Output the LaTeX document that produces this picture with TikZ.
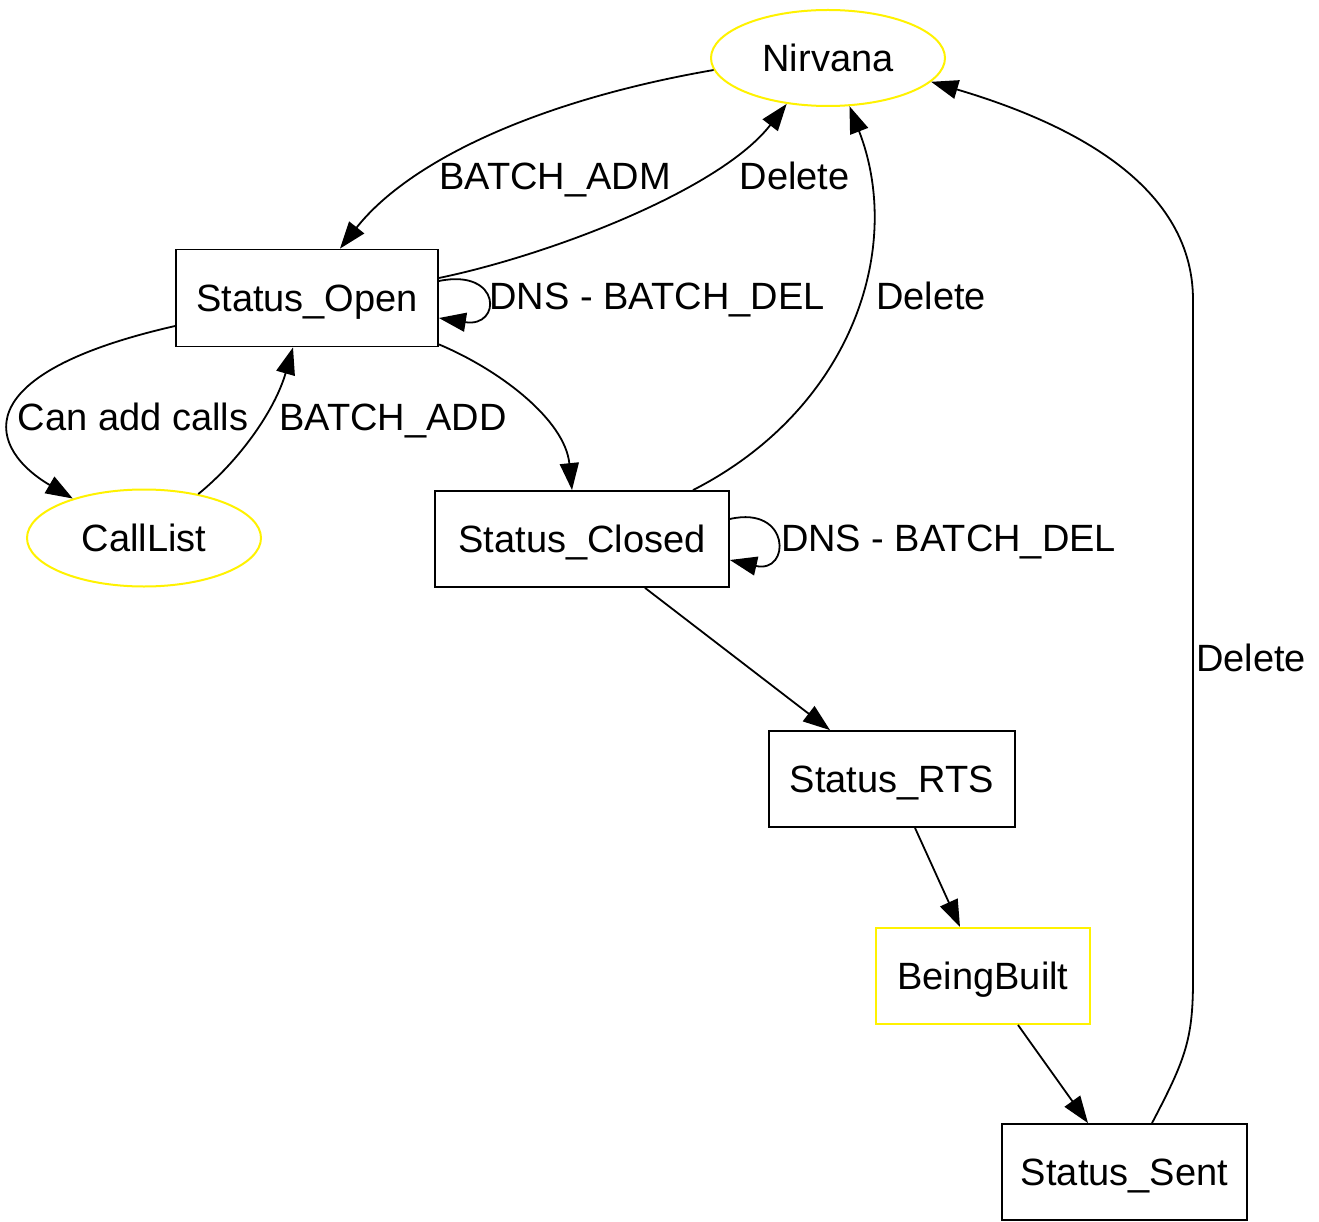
\documentclass[tikz,border=0pt]{standalone}
\usepackage{fontspec}
\setmainfont{Liberation Sans}
\usetikzlibrary{shapes.geometric,arrows.meta}
\begin{document}
\begin{tikzpicture}[x=1pt,y=-1pt,
  every node/.style={font=\fontsize{38}{42}\selectfont, inner sep=0pt, text height=27.2pt, text depth=0pt},
  box/.style={draw=black, line width=1.8pt, rectangle, minimum height=96pt},
  ybox/.style={draw=yellow, line width=2pt, rectangle, minimum height=96pt},
  ell/.style={draw=yellow, line width=2pt, ellipse, minimum width=234pt, minimum height=96pt},
  edge/.style={line width=1.8pt, -{Triangle[length=27pt,width=19pt]}},
  lbl/.style={anchor=base}]
\fill[white] (0,0) rectangle (1319,1222);
\useasboundingbox (0,0) rectangle (1319,1222);

\node[ell] (nirvana) at (828,58) {Nirvana};
\node[box, minimum width=262pt, minimum height=97pt] (open) at (307,298) {Status\_Open};
\node[ell, minimum height=97pt] (calllist) at (144,538) {CallList};
\node[box, minimum width=294pt] (closed) at (582,539) {Status\_Closed};
\node[box, minimum width=246pt] (rts) at (892,779) {Status\_RTS};
\node[ybox, minimum width=214pt] (built) at (983,976) {BeingBuilt};
\node[box, minimum width=245pt] (sent) at (1124.5,1172) {Status\_Sent};

% Nirvana -> Status_Open
\draw[edge] (nirvana.186) .. controls (540,100) and (410,160) .. ([xshift=33pt]open.north);
% Status_Open -> Nirvana
\draw[edge] ([yshift=20pt]open.east) .. controls (550,255) and (720,190) .. (nirvana.228);
% Status_Open self loop
\draw[edge] ([yshift=17pt]open.east) .. controls (502,268) and (502,328) .. ([yshift=-20pt]open.east);
% Status_Open -> CallList
\draw[edge] ([yshift=-28pt]open.west) .. controls (-40,375) and (-10,450) .. (calllist.151);
% CallList -> Status_Open
\draw[edge] (calllist.39) .. controls (240,460) and (275,410) .. ([xshift=-14pt]open.south);
% Status_Open -> Status_Closed
\draw[edge] ([yshift=3pt]open.south east) .. controls (500,370) and (565,420) .. ([xshift=-10pt]closed.north);
% Status_Closed -> Nirvana
\draw[edge] ([xshift=111pt]closed.north) .. controls (850,410) and (905,250) .. (nirvana.294);
% Status_Closed self loop
\draw[edge] ([yshift=20pt]closed.east) .. controls (791,505) and (791,574) .. ([yshift=-21pt]closed.east);
% chain
\draw[edge] ([xshift=63pt]closed.south) -- ([xshift=-62pt]rts.north);
\draw[edge] ([xshift=23pt]rts.south) -- ([xshift=-23pt]built.north);
\draw[edge] ([xshift=35pt]built.south) -- ([xshift=-36.5pt]sent.north);
% Status_Sent -> Nirvana
\draw[edge] ([xshift=27.5pt]sent.north) .. controls (1185,1060) and (1193,1040) .. (1193,980)
  -- (1193,300) .. controls (1193,180) and (1060,120) .. (nirvana.347);

% labels
\node[lbl] (l1) at (555,190) {BATCH\_ADM};
\node[lbl] (l2) at (794.5,190) {Delete};
\node[lbl] (l3) at (657,310) {DNS - BATCH\_DEL};
\node[lbl] (l4) at (931,310) {Delete};
\node[lbl] (l5) at (133,430) {Can add calls};
\node[lbl] (l6) at (393,430) {BATCH\_ADD};
\node[lbl] (l7) at (948.5,551) {DNS - BATCH\_DEL};
\node[lbl] (l8) at (1251,671) {Delete};
\end{tikzpicture}
\end{document}
